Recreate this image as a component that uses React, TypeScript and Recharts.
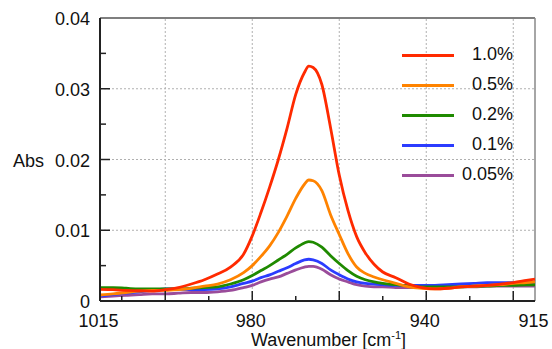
import { CartesianGrid, Legend, Line, LineChart, ReferenceLine, XAxis, YAxis } from "recharts";

const wavenumbers = [
  1015, 1012, 1009, 1006, 1003, 1000, 997, 994, 991, 988, 985, 982, 980, 978, 976, 974, 972, 970, 968, 967, 966,
  964, 962, 960, 958, 956, 954, 952, 950, 947, 944, 941, 938, 935, 932, 929, 926, 923, 920, 917, 915,
];

const conc10 = [
  0.00165, 0.0016, 0.0015, 0.00145, 0.0014, 0.0016, 0.0019, 0.0024, 0.003, 0.0038, 0.0048, 0.0066, 0.0092, 0.0125,
  0.0161, 0.02, 0.0244, 0.0292, 0.0323, 0.0332, 0.033, 0.0306, 0.0245, 0.0178, 0.0128, 0.0091, 0.0068, 0.0052, 0.0041,
  0.0033, 0.0024, 0.0019, 0.0017, 0.0018, 0.002, 0.0021, 0.0022, 0.0024, 0.0026, 0.0029, 0.0031,
];
const conc05 = [
  0.00085, 0.001, 0.0012, 0.0014, 0.0015, 0.0015, 0.0016, 0.0018, 0.0021, 0.0024, 0.003, 0.004, 0.005, 0.0063, 0.0078,
  0.0097, 0.012, 0.0145, 0.0165, 0.0171, 0.017, 0.0156, 0.0122, 0.0094, 0.0067, 0.0048, 0.0039, 0.0034, 0.003, 0.0025,
  0.002, 0.0018, 0.0017, 0.0018, 0.002, 0.0021, 0.0022, 0.0023, 0.0025, 0.0026, 0.0027,
];
const conc02 = [
  0.0019, 0.0019, 0.0018, 0.0017, 0.0017, 0.0017, 0.0017, 0.0018, 0.0019, 0.002, 0.0024, 0.003, 0.0036, 0.0043, 0.005,
  0.0058, 0.0066, 0.0075, 0.0082, 0.0084, 0.0083, 0.0076, 0.0064, 0.0053, 0.0043, 0.0035, 0.003, 0.0027, 0.0025,
  0.0023, 0.0021, 0.002, 0.002, 0.002, 0.002, 0.0021, 0.0021, 0.0022, 0.0022, 0.0023, 0.0023,
];
const conc01 = [
  0.0007, 0.0009, 0.0011, 0.0013, 0.0015, 0.0017, 0.0017, 0.0016, 0.0016, 0.0017, 0.002, 0.0025, 0.0028, 0.0033,
  0.0037, 0.0042, 0.0047, 0.0053, 0.0058, 0.0059, 0.0058, 0.0053, 0.0044, 0.0037, 0.0031, 0.0027, 0.0025, 0.0024,
  0.0023, 0.0022, 0.0022, 0.0022, 0.0022, 0.0023, 0.0024, 0.0025, 0.0026, 0.0026, 0.0026, 0.0026, 0.0026,
];
const conc005 = [
  0.0006, 0.0007, 0.0008, 0.0009, 0.001, 0.001, 0.0011, 0.0012, 0.0012, 0.0013, 0.0015, 0.0019, 0.0022, 0.0027,
  0.0031, 0.0034, 0.0039, 0.0044, 0.0048, 0.0049, 0.0049, 0.0045, 0.0037, 0.0031, 0.0027, 0.0023, 0.0021, 0.002,
  0.002, 0.0019, 0.0019, 0.0019, 0.0019, 0.0019, 0.002, 0.002, 0.0021, 0.0021, 0.0021, 0.0021, 0.0021,
];

const xTicks = [1015, 1010, 1000, 990, 980, 970, 960, 950, 940, 930, 920, 915];
const xLabels = [1015, 980, 940, 915];
const xGrid = [1000, 980, 960, 940, 920];
const yTicks = [0, 0.005, 0.01, 0.015, 0.02, 0.025, 0.03, 0.035, 0.04];
const yGrid = [0.01, 0.02, 0.03];

const series = [
  { key: "c10", name: "1.0%", color: "#ff2a00", values: conc10 },
  { key: "c05", name: "0.5%", color: "#ff8300", values: conc05 },
  { key: "c02", name: "0.2%", color: "#1f8a00", values: conc02 },
  { key: "c01", name: "0.1%", color: "#2b3cff", values: conc01 },
  { key: "c005", name: "0.05%", color: "#9a4c9a", values: conc005 },
];

const data = wavenumbers.map((w, i) => {
  const row: Record<string, number> = { w };
  series.forEach((s) => (row[s.key] = s.values[i]));
  return row;
});

const font = "'Liberation Sans', Arial, sans-serif";

function XTick({ x, y, payload }: any) {
  const v = payload.value;
  const len = v % 20 === 0 ? 10 : v % 10 === 0 ? 5 : 0;
  return (
    <g>
      {len > 0 && <line x1={x} y1={y} x2={x} y2={y - len} stroke="#222" strokeWidth={1.5} />}
      {xLabels.includes(v) && (
        <text x={x - 1.5} y={y + 26} textAnchor="middle" fontSize={18} fill="#111" fontFamily={font}>
          {v}
        </text>
      )}
    </g>
  );
}

function YTick({ x, y, payload }: any) {
  const v = payload.value;
  const k = Math.round(v * 1000);
  const major = k % 10 === 0;
  const len = k === 0 || k === 40 ? 0 : major ? 10 : 6;
  return (
    <g>
      {len > 0 && <line x1={x} y1={y} x2={x + len} y2={y} stroke="#222" strokeWidth={1.5} />}
      {major && (
        <text x={x - 10} y={y + 7} textAnchor="end" fontSize={18} fill="#111" fontFamily={font}>
          {k === 0 ? "0" : v.toFixed(2)}
        </text>
      )}
    </g>
  );
}

function LegendBox() {
  return (
    <div style={{ width: 120, fontFamily: font, fontSize: 18, color: "#111" }}>
      {series.map((s) => (
        <div key={s.key} style={{ height: 30, position: "relative" }}>
          <div style={{ position: "absolute", left: 7, top: 14, width: 52, height: 3, background: s.color }} />
          <div style={{ position: "absolute", right: 2, top: 4, lineHeight: "20px" }}>{s.name}</div>
        </div>
      ))}
    </div>
  );
}

export default function App() {
  return (
    <div style={{ position: "absolute", left: 0, top: 0, width: 552, height: 349, background: "#fff" }}>
      <LineChart width={552} height={349} data={data} margin={{ top: 18, right: 17, bottom: 0, left: 0 }}>
        <CartesianGrid horizontal={false} vertical={false} />
        {xGrid.map((g) => (
          <ReferenceLine key={g} x={g} stroke="#b0b0b0" strokeDasharray="2 2" />
        ))}
        {yGrid.map((g) => (
          <ReferenceLine key={g} y={g} stroke="#b0b0b0" strokeDasharray="2 2" />
        ))}
        <ReferenceLine y={0.04} stroke="#555" strokeWidth={1.5} />
        <ReferenceLine x={915} stroke="#888" strokeWidth={1.5} />
        <XAxis
          dataKey="w"
          type="number"
          domain={[915, 1015]}
          reversed
          ticks={xTicks}
          interval={0}
          height={48}
          tickSize={0}
          tickMargin={0}
          tick={<XTick />}
          axisLine={{ stroke: "#222", strokeWidth: 2 }}
          label={{
            content: ({ viewBox }: any) => (
              <text
                x={viewBox.x + viewBox.width / 2 + 11}
                y={346}
                textAnchor="middle"
                fontSize={18}
                fill="#111"
                fontFamily={font}
              >
                Wavenumber [cm
                <tspan dy={-7} fontSize={11}>
                  -1
                </tspan>
                <tspan dy={7}>]</tspan>
              </text>
            ),
          }}
        />
        <YAxis
          type="number"
          domain={[0, 0.04]}
          ticks={yTicks}
          interval={0}
          width={100}
          tickSize={0}
          tickMargin={0}
          tick={<YTick />}
          axisLine={{ stroke: "#222", strokeWidth: 2 }}
          label={{
            content: () => (
              <text x={13} y={167} fontSize={18} fill="#111" fontFamily={font}>
                Abs
              </text>
            ),
          }}
        />
        <Legend
          layout="vertical"
          align="center"
          verticalAlign="middle"
          content={() => <LegendBox />}
          wrapperStyle={{ left: 395, top: 40, width: 120 }}
        />
        {[...series].reverse().map((s) => (
          <Line
            key={s.key}
            dataKey={s.key}
            name={s.name}
            type="monotone"
            stroke={s.color}
            strokeWidth={2.8}
            dot={false}
            isAnimationActive={false}
          />
        ))}
      </LineChart>
    </div>
  );
}
